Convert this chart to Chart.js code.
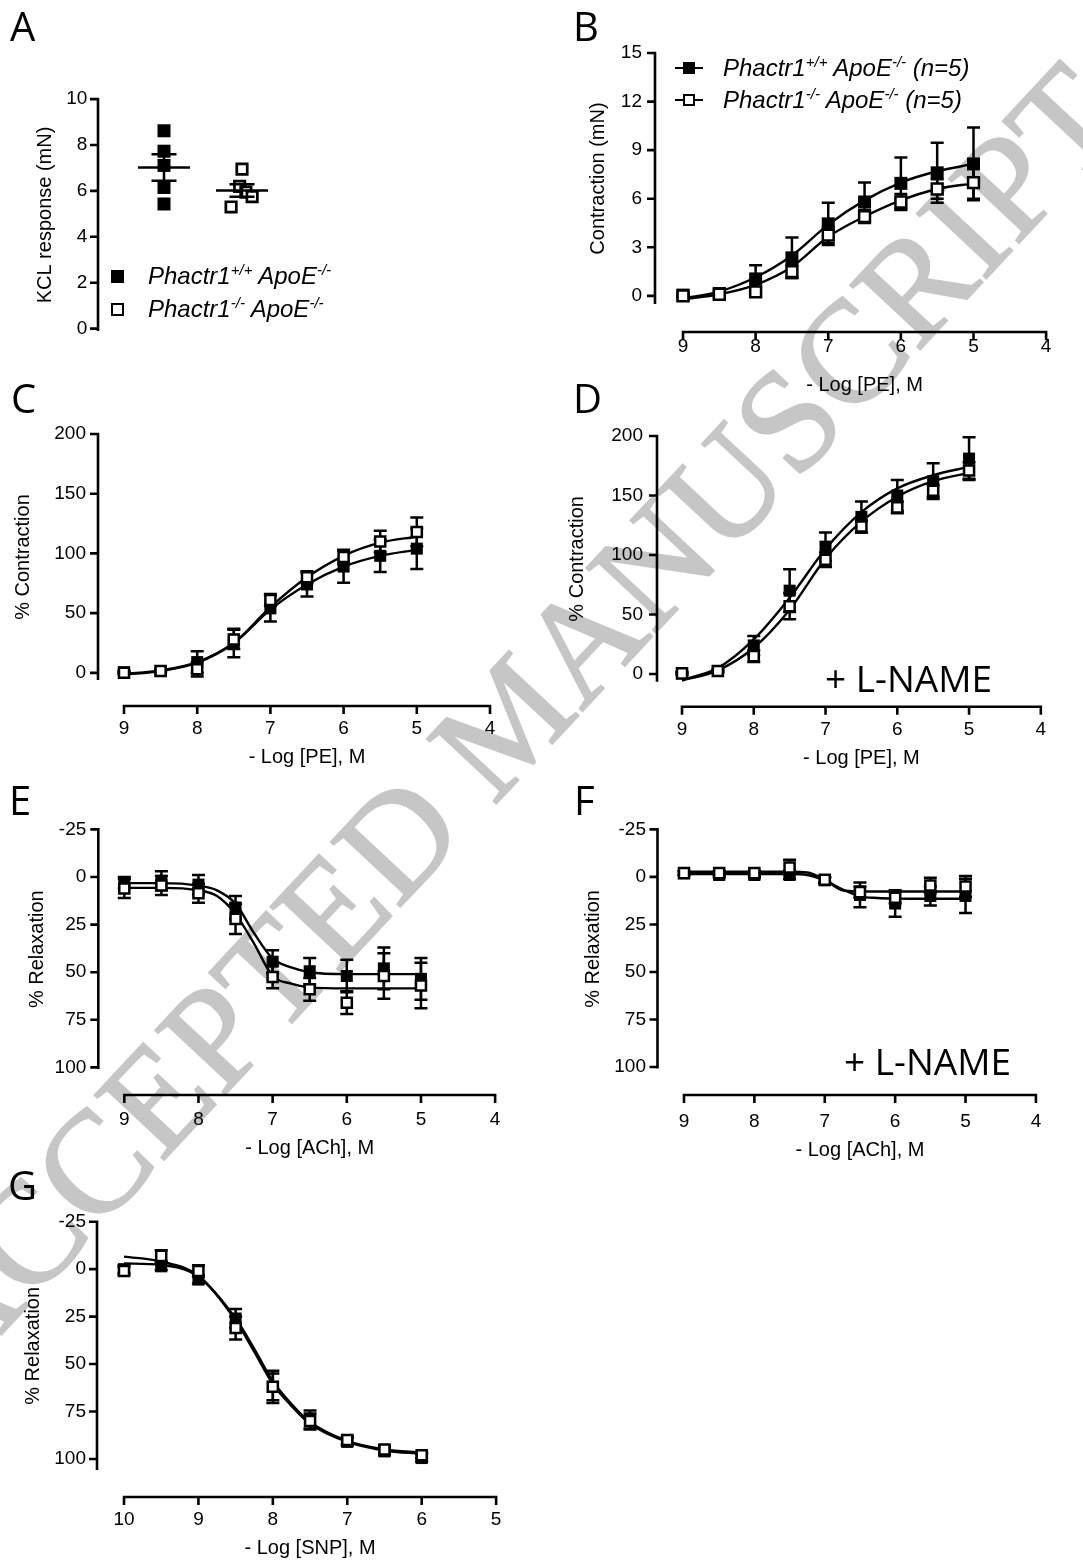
<!DOCTYPE html>
<html>
<head>
<meta charset="utf-8">
<script src="https://cdn.jsdelivr.net/npm/chart.js@4.4.1/dist/chart.umd.min.js"></script>
<style>
html, body { margin: 0; padding: 0; background: #fff; }
body { position: relative; width: 1083px; height: 1564px; overflow: hidden; color: #000; }
canvas { position: absolute; z-index: 1; }
.wm { position: absolute; z-index: 0; left: 509px; top: 719px; transform: translate(-50%, -50%) rotate(-47deg);
      font: 145px/1 'Liberation Serif', 'Times New Roman', serif; color: #c6c6c6; white-space: nowrap;
      -webkit-text-stroke: 2px #c6c6c6; }
.lab { position: absolute; z-index: 2; font: 40px/40px 'Open Sans', sans-serif; }
.lname { position: absolute; z-index: 2; font: 37px/37px 'Open Sans', sans-serif; white-space: nowrap; }
.leg { position: absolute; z-index: 2; font: italic 24px/30px 'Liberation Sans', Arial, sans-serif; white-space: nowrap; }
.leg sup { font-size: 15px; line-height: 0; vertical-align: 0; position: relative; top: -9px; }
.mk { position: absolute; z-index: 2; box-sizing: border-box; }
</style>
</head>
<body>
<div class="wm">ACCEPTED MANUSCRIPT</div>

<canvas id="cA" width="540" height="330" style="left:0;top:50px"></canvas>
<canvas id="cB" width="523" height="400" style="left:560px;top:0"></canvas>
<canvas id="cC" width="540" height="400" style="left:0;top:380px"></canvas>
<canvas id="cD" width="523" height="400" style="left:560px;top:380px"></canvas>
<canvas id="cE" width="540" height="390" style="left:0;top:780px"></canvas>
<canvas id="cF" width="523" height="390" style="left:560px;top:780px"></canvas>
<canvas id="cG" width="540" height="404" style="left:0;top:1160px"></canvas>

<div class="lab" style="left:10px;top:6px">A</div>
<div class="lab" style="left:573px;top:6px">B</div>
<div class="lab" style="left:11px;top:378px">C</div>
<div class="lab" style="left:573px;top:378px">D</div>
<div class="lab" style="left:9px;top:780px">E</div>
<div class="lab" style="left:574px;top:780px">F</div>
<div class="lab" style="left:8px;top:1165px">G</div>

<div class="lname" style="left:825px;top:659px">+ L-NAME</div>
<div class="lname" style="left:844px;top:1042px">+ L-NAME</div>

<!-- legend A -->
<div class="mk" style="left:110.5px;top:269.5px;width:13px;height:13px;background:#000"></div>
<div class="leg" style="left:148px;top:261px">Phactr1<sup>+/+</sup> ApoE<sup>-/-</sup></div>
<div class="mk" style="left:110.5px;top:302.5px;width:13px;height:13px;border:2.7px solid #000;background:#fff"></div>
<div class="leg" style="left:148px;top:294px">Phactr1<sup>-/-</sup> ApoE<sup>-/-</sup></div>

<!-- legend B -->
<div class="mk" style="left:675px;top:66.75px;width:28px;height:2.5px;background:#000"></div>
<div class="mk" style="left:683px;top:62px;width:12px;height:12px;background:#000"></div>
<div class="leg" style="left:723px;top:53px">Phactr1<sup>+/+</sup> ApoE<sup>-/-</sup> (n=5)</div>
<div class="mk" style="left:675px;top:98.75px;width:28px;height:2.5px;background:#000"></div>
<div class="mk" style="left:683px;top:94px;width:12px;height:12px;border:2.5px solid #000;background:#fff"></div>
<div class="leg" style="left:723px;top:85px">Phactr1<sup>-/-</sup> ApoE<sup>-/-</sup> (n=5)</div>

<script>
// A: KCl response, single vessels
const groupX = [1, 2];
const kclWtX = [1, 1, 1, 1, 1];
const kclWt = [8.62, 7.73, 7.11, 6.15, 5.43];
const kclKoX = [2, 1.97, 2.05, 2.13, 1.86];
const kclKo = [6.95, 6.2, 5.95, 5.75, 5.3];
const kclMean = [7.02, 6.02];
const kclSem = [0.58, 0.27];

// B: PE contraction (mN)
const logPE = [9, 8.5, 8, 7.5, 7, 6.5, 6, 5.5, 5];
const contrWt = [0.05, 0.15, 1.05, 2.35, 4.45, 5.8, 6.95, 7.6, 8.15];
const contrWtSem = [0.1, 0.15, 0.85, 1.25, 1.3, 1.2, 1.6, 1.85, 2.25];
const contrKo = [0.0, 0.1, 0.25, 1.5, 3.75, 4.9, 5.8, 6.6, 7.0];
const contrKoSem = [0.05, 0.1, 0.3, 0.4, 0.5, 0.4, 0.5, 0.6, 1.0];
const contrWtFit = [-0.15, 0.27, 1.15, 2.5, 4.4, 5.9, 7.0, 7.7, 8.15];
const contrKoFit = [-0.2, 0.1, 0.68, 1.8, 3.65, 4.9, 5.9, 6.6, 6.95];

// C: PE % contraction
const pctWt = [0.5, 1.5, 9, 25, 54, 74, 89, 98, 104];
const pctWtSem = [1, 1, 9, 12, 11, 10, 13.5, 13.5, 17];
const pctKo = [0, 1.5, 3, 28, 61, 80, 97, 110, 118];
const pctKoSem = [1, 1, 6, 8, 5, 5, 6, 9, 12];
const pctWtFit = [-1, 2, 9, 25, 53, 74, 89, 98, 103];
const pctKoFit = [-1.5, 1.5, 8.5, 25, 55, 80, 98, 109, 114];

// D: PE % contraction + L-NAME
const lnWt = [0.6, 2.5, 24, 70, 107, 132, 150, 162, 181];
const lnWtSem = [1, 1, 8, 18, 12, 13, 13, 15, 18];
const lnKo = [0.5, 2.5, 15, 57, 96, 124, 140, 154, 171];
const lnKoSem = [1, 1, 5, 11, 6, 5, 5, 5, 7];
const lnWtFit = [-5, 5, 29, 64, 105, 136, 156, 167, 174];
const lnKoFit = [-5.5, 3, 22, 54, 97, 128, 149, 162, 169];

// E: ACh relaxation
const logACh = [9, 8.5, 8, 7.5, 7, 6.5, 6, 5.5, 5];
const achFitX = [9, 8.5, 8, 7.75, 7.5, 7.25, 7, 6.75, 6.5, 6, 5.5, 5];
const achWt = [3, 2, 4, 16, 44.5, 49.5, 52, 48, 53.5];
const achWtSem = [3, 5, 5, 6, 6, 7, 8.5, 11, 11];
const achKo = [6, 4.5, 8.5, 22, 52.5, 59, 66, 52, 57];
const achKoSem = [5, 5, 5, 8, 6, 6, 6, 12, 12];
const achWtFit = [3.2, 3.2, 4.5, 7, 14, 29.5, 42.8, 47.5, 50, 51, 51, 51];
const achKoFit = [5.7, 5.7, 7, 10, 19.5, 35, 52, 56, 58, 58.5, 58.5, 58.5];

// F: ACh relaxation + L-NAME
const achLFitX = [9, 8.5, 8, 7.5, 7.25, 7, 6.75, 6.5, 6.25, 6, 5.5, 5];
const achLWt = [-2, -1, -1, -1, 1.8, 9.5, 14, 10, 10];
const achLWtSem = [1, 1, 1, 2, 1.5, 6.5, 7, 5, 9];
const achLKo = [-2, -2, -2, -5, 1.5, 8, 11, 4.5, 5];
const achLKoSem = [1, 1, 1, 4, 1.5, 3, 3, 4, 5.5];
const achLWtFit = [-1.5, -1.5, -1.5, -1.5, -1, 1.8, 6.5, 10.2, 11.1, 11.4, 11.5, 11.5];
const achLKoFit = [-2.7, -2.7, -2.7, -2.7, -2.3, 1.5, 7, 7.6, 7.7, 7.7, 7.7, 7.7];

// G: SNP relaxation
const logSNP = [10, 9.5, 9, 8.5, 8, 7.5, 7, 6.5, 6];
const snpFitX = [10, 9.5, 9, 8.5, 8.25, 8, 7.75, 7.5, 7, 6.5, 6];
const snpWt = [0, -1.5, 5.5, 26, 62, 79.5, 91, 96, 99.5];
const snpWtSem = [2, 2, 2, 5, 7, 5, 2, 2, 2];
const snpKo = [1, -7, 1, 31, 62, 80, 90, 95, 98];
const snpKoSem = [2, 3, 3, 6, 8.5, 4, 2, 2, 1.5];
const snpWtFit = [-3, -2.2, 4, 26, 42, 59, 71, 80.5, 90.5, 95, 96.5];
const snpKoFit = [-6.6, -4, 3.5, 27, 43.5, 60.5, 72, 81.5, 91, 95.5, 97.3];

Chart.defaults.font.family = "'Liberation Sans', Arial, sans-serif";
Chart.defaults.font.size = 19;
Chart.defaults.color = '#000';
Chart.defaults.animation = false;

const pts = (xs, ys) => xs.map((x, i) => ({ x, y: ys[i] }));

// GraphPad style: axes pulled away from the data area, error bars, mean +/- SEM
const offsetAxes = {
  id: 'offsetAxes',
  beforeDatasetsDraw(chart, args, o) {
    const { ctx, chartArea: a, scales: { x, y } } = chart;
    ctx.save();
    ctx.strokeStyle = '#000';
    ctx.lineWidth = 2.6;
    ctx.beginPath();
    const ax = a.left - o.gap;
    ctx.moveTo(ax, a.top - 1.3);
    ctx.lineTo(ax, a.bottom);
    y.ticks.forEach(t => {
      const py = y.getPixelForValue(t.value);
      ctx.moveTo(ax + 1.3, py);
      ctx.lineTo(ax - o.tick, py);
    });
    if (o.xAxis) {
      const ay = a.bottom + o.gap;
      ctx.moveTo(a.left - 1.3, ay);
      ctx.lineTo(a.right + 1.3, ay);
      x.ticks.forEach(t => {
        const px = x.getPixelForValue(t.value);
        ctx.moveTo(px, ay - 1.3);
        ctx.lineTo(px, ay + o.tick);
      });
    }
    ctx.stroke();
    ctx.restore();
  },
  beforeDatasetDraw(chart, args) {
    const ds = chart.data.datasets[args.index];
    if (!ds.sem) return;
    const { ctx, scales: { x, y } } = chart;
    ctx.save();
    ctx.strokeStyle = '#000';
    ctx.lineWidth = 2.5;
    ctx.beginPath();
    ds.data.forEach((p, i) => {
      const e = ds.sem[i];
      const px = x.getPixelForValue(p.x);
      const t = y.getPixelForValue(p.y + e);
      const b = y.getPixelForValue(p.y - e);
      ctx.moveTo(px, t); ctx.lineTo(px, b);
      ctx.moveTo(px - 6.5, t); ctx.lineTo(px + 6.5, t);
      ctx.moveTo(px - 6.5, b); ctx.lineTo(px + 6.5, b);
    });
    ctx.stroke();
    ctx.restore();
  },
  afterDatasetDraw(chart, args) {
    const ds = chart.data.datasets[args.index];
    if (!ds.summary) return;
    const { ctx, scales: { x, y } } = chart;
    const { at, mean, sem } = ds.summary;
    const px = x.getPixelForValue(at);
    const pm = y.getPixelForValue(mean);
    const pt = y.getPixelForValue(mean + sem);
    const pb = y.getPixelForValue(mean - sem);
    ctx.save();
    ctx.strokeStyle = '#000';
    ctx.lineWidth = 2.5;
    ctx.beginPath();
    ctx.moveTo(px - 26, pm); ctx.lineTo(px + 26, pm);
    ctx.moveTo(px, pt); ctx.lineTo(px, pb);
    ctx.moveTo(px - 12.5, pt); ctx.lineTo(px + 12.5, pt);
    ctx.moveTo(px - 12.5, pb); ctx.lineTo(px + 12.5, pb);
    ctx.stroke();
    ctx.restore();
  }
};
Chart.register(offsetAxes);

function doseSets(dose, wt, wtSem, ko, koSem, fitX, wtFit, koFit, size = 1) {
  const curve = (ys, order) => ({
    type: 'line', data: pts(fitX, ys), borderColor: '#000', borderWidth: 2.4,
    pointRadius: 0, cubicInterpolationMode: 'monotone', order, clip: false
  });
  return [
    { data: pts(dose, ko), sem: koSem, pointStyle: 'rect', pointRadius: 7.1 * size,
      pointBackgroundColor: '#fff', pointBorderColor: '#000', pointBorderWidth: 2.5, order: 0, clip: false },
    { data: pts(dose, wt), sem: wtSem, pointStyle: 'rect', pointRadius: 8.5 * size,
      pointBackgroundColor: '#000', pointBorderColor: '#000', pointBorderWidth: 0, order: 1, clip: false },
    curve(koFit, 2),
    curve(wtFit, 3)
  ];
}

function panel(id, c) {
  const showX = c.xAxis !== false;
  const xScale = {
    type: 'linear', reverse: c.xReverse !== false, min: c.xMin, max: c.xMax, display: showX,
    border: { display: false }, grid: { display: false, drawTicks: false },
    ticks: { stepSize: 1, padding: c.xLabelPad, autoSkip: false, maxRotation: 0, includeBounds: false },
    title: { display: showX, text: c.xTitle, font: { size: 20 }, padding: { top: 0, bottom: c.xTitlePad } }
  };
  if (showX) xScale.afterFit = s => { s.height = c.xHeight; };
  new Chart(document.getElementById(id), {
    type: 'scatter',
    data: { datasets: c.datasets },
    options: {
      responsive: false,
      animation: false,
      events: [],
      layout: { padding: { top: c.padTop, right: c.padRight, bottom: c.padBottom || 0, left: 0 } },
      plugins: {
        legend: { display: false },
        tooltip: { enabled: false },
        offsetAxes: { gap: c.gap, tick: 8, xAxis: showX }
      },
      scales: {
        x: xScale,
        y: {
          type: 'linear', reverse: !!c.yReverse, min: c.yMin, max: c.yMax,
          border: { display: false }, grid: { display: false, drawTicks: false },
          ticks: { stepSize: c.yStep, padding: c.yLabelPad, autoSkip: false, includeBounds: false },
          title: { display: true, text: c.yTitle, font: { size: 20 }, padding: { top: c.yTitlePad, bottom: 0 } },
          afterFit: s => { s.width = c.yWidth; }
        }
      }
    }
  });
}

panel('cA', {
  xAxis: false, xReverse: false, xMin: 0.5, xMax: 3,
  yMin: -0.1, yMax: 10, yStep: 2, yTitle: 'KCL response (mN)',
  yWidth: 125, padTop: 39, padRight: 220, padBottom: 34.5,
  yLabelPad: 37.7, yTitlePad: 33, gap: 27,
  datasets: [
    { data: pts(kclKoX, kclKo), pointStyle: 'rect', pointRadius: 7.4, pointBackgroundColor: '#fff',
      pointBorderColor: '#000', pointBorderWidth: 2.7, order: 0, clip: false,
      summary: { at: groupX[1], mean: kclMean[1], sem: kclSem[1] } },
    { data: pts(kclWtX, kclWt), pointStyle: 'rect', pointRadius: 9.2, pointBackgroundColor: '#000',
      pointBorderWidth: 0, order: 1, clip: false,
      summary: { at: groupX[0], mean: kclMean[0], sem: kclSem[0] } }
  ]
});

panel('cB', {
  xMin: 4, xMax: 9, xTitle: '- Log [PE], M', xHeight: 96, xLabelPad: 31.6, xTitlePad: 3,
  yMin: -0.5, yMax: 15, yStep: 3, yTitle: 'Contraction (mN)',
  yWidth: 123, padTop: 53, padRight: 8, yLabelPad: 41, yTitlePad: 26, gap: 28,
  datasets: doseSets(logPE, contrWt, contrWtSem, contrKo, contrKoSem, logPE, contrWtFit, contrKoFit, 1.08)
});

panel('cC', {
  xMin: 4, xMax: 9, xTitle: '- Log [PE], M', xHeight: 100, xLabelPad: 37.6, xTitlePad: 11,
  yMin: -6, yMax: 200, yStep: 50, yTitle: '% Contraction',
  yWidth: 124, padTop: 54, padRight: 50, yLabelPad: 38, yTitlePad: 11, gap: 26,
  datasets: doseSets(logPE, pctWt, pctWtSem, pctKo, pctKoSem, logPE, pctWtFit, pctKoFit)
});

panel('cD', {
  xMin: 4, xMax: 9, xTitle: '- Log [PE], M', xHeight: 98.3, xLabelPad: 36.9, xTitlePad: 10,
  yMin: -6.5, yMax: 200, yStep: 50, yTitle: '% Contraction',
  yWidth: 122, padTop: 56, padRight: 24, yLabelPad: 39, yTitlePad: 5, gap: 25,
  datasets: doseSets(logPE, lnWt, lnWtSem, lnKo, lnKoSem, logPE, lnWtFit, lnKoFit)
});

panel('cE', {
  xMin: 4, xMax: 9, xTitle: '- Log [ACh], M', xHeight: 101, xLabelPad: 39.6, xTitlePad: 10,
  yReverse: true, yMin: -25, yMax: 100.85, yStep: 25, yTitle: '% Relaxation',
  yWidth: 124.3, padTop: 37.7, padRight: 38.3, yLabelPad: 38, yTitlePad: 25, gap: 26,
  datasets: doseSets(logACh, achWt, achWtSem, achKo, achKoSem, achFitX, achWtFit, achKoFit)
});

panel('cF', {
  xMin: 4, xMax: 9, xTitle: '- Log [ACh], M', xHeight: 101.5, xLabelPad: 41.8, xTitlePad: 8,
  yReverse: true, yMin: -25, yMax: 100.8, yStep: 25, yTitle: '% Relaxation',
  yWidth: 124, padTop: 37.3, padRight: 10.7, yLabelPad: 38, yTitlePad: 21, gap: 26.5,
  datasets: doseSets(logACh, achLWt, achLWtSem, achLKo, achLKoSem, achLFitX, achLWtFit, achLKoFit)
});

panel('cG', {
  xMin: 5, xMax: 10, xTitle: '- Log [SNP], M', xHeight: 94, xLabelPad: 38.6, xTitlePad: 4,
  yReverse: true, yMin: -25, yMax: 105.8, yStep: 25, yTitle: '% Relaxation',
  yWidth: 124, padTop: 61.7, padRight: 41, yLabelPad: 38, yTitlePad: 21, gap: 27,
  datasets: doseSets(logSNP, snpWt, snpWtSem, snpKo, snpKoSem, snpFitX, snpWtFit, snpKoFit)
});
</script>
</body>
</html>
